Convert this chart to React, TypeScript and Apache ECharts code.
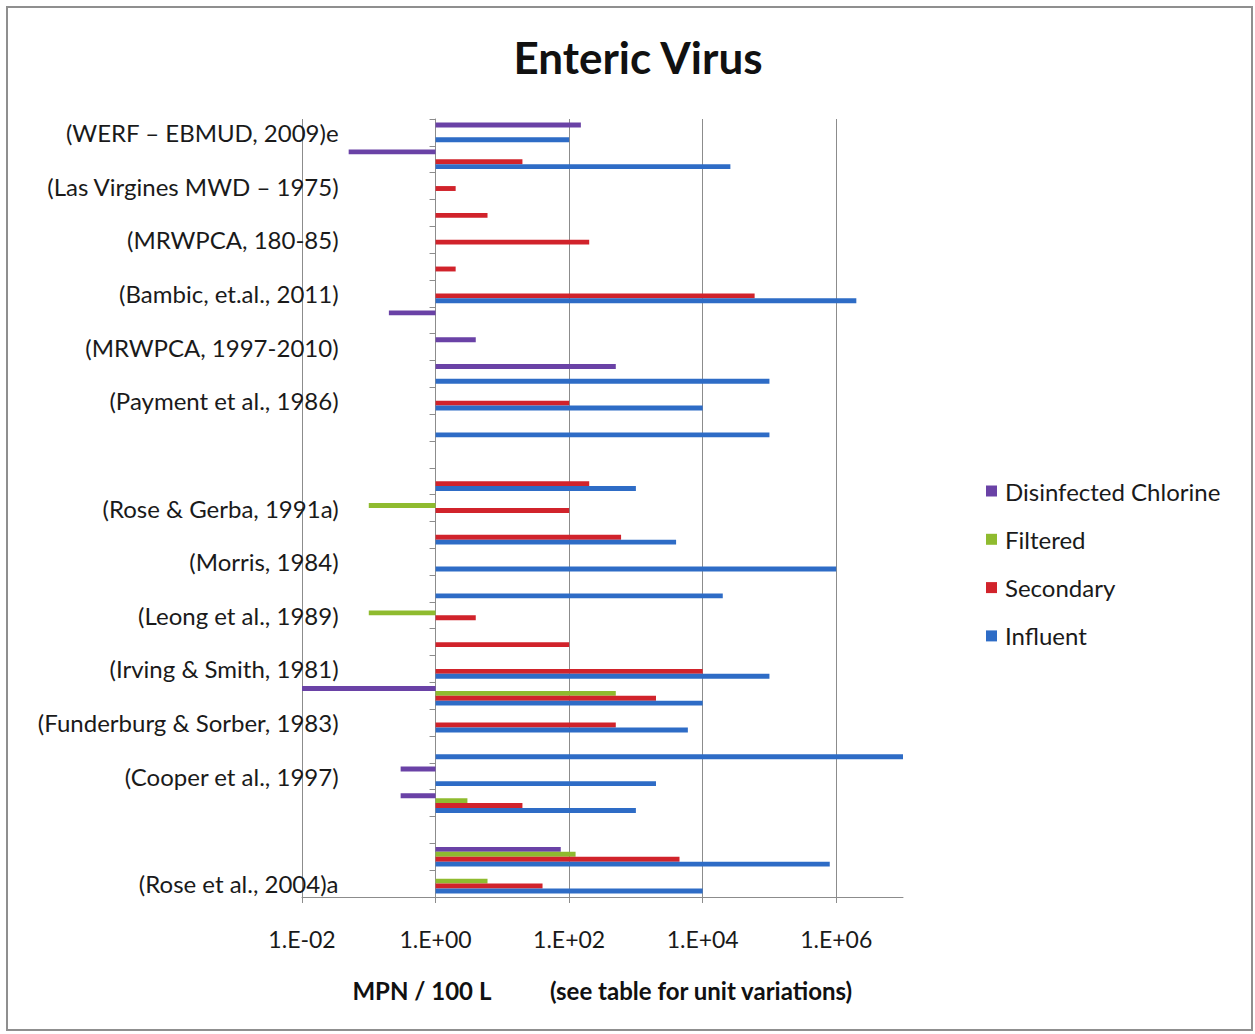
import React, { useEffect, useRef } from 'react';
import * as echarts from 'echarts';

// Rows from top to bottom (only every other row carries a visible label)
const categories: string[] = [
  '(WERF – EBMUD, 2009)e', '',
  '(Las Virgines MWD – 1975)', '',
  '(MRWPCA, 180-85)', '',
  '(Bambic, et.al., 2011)', '',
  '(MRWPCA, 1997-2010)', '',
  '(Payment et al., 1986)', '',
  '', '',
  '(Rose & Gerba, 1991a)', '',
  '(Morris, 1984)', '',
  '(Leong et al., 1989)', '',
  '(Irving & Smith, 1981)', '',
  '(Funderburg & Sorber, 1983)', '',
  '(Cooper et al., 1997)', '',
  '', '',
  '(Rose et al., 2004)a',
];

const seriesNames = ['Disinfected Chlorine', 'Filtered', 'Secondary', 'Influent'];

const disinfected = [150, 0.05, null, null, null, null, null, 0.2, 4, 500, null, null, null, null, null, null, null, null, null, null, null, 0.01, null, null, 0.3, 0.3, null, 75, null];
const filtered = [null, null, null, null, null, null, null, null, null, null, null, null, null, null, 0.1, null, null, null, 0.1, null, null, 500, null, null, null, 3, null, 125, 6];
const secondary = [null, 20, 2, 6, 200, 2, 60000, null, null, null, 100, null, null, 200, 100, 600, null, null, 4, 100, 10000, 2000, 500, null, null, 20, null, 4500, 40];
const influent = [100, 26000, null, null, null, null, 2000000, null, null, 100000, 10000, 100000, null, 1000, null, 4000, 1000000, 20000, null, null, 100000, 10000, 6000, 10000000, 2000, 1000, null, 800000, 10000];

const xTickLabels = ['1.E-02', '1.E+00', '1.E+02', '1.E+04', '1.E+06'];
const xMin = 0.01;
const xMax = 1e7;

const colors = ['#6a42a6', '#8fbb2f', '#d1232b', '#2e6cc6'];

const FONT = 'Lato, "Open Sans", sans-serif';

export default function App() {
  const ref = useRef<HTMLDivElement>(null);
  useEffect(() => {
    if (!ref.current) return;
    const chart = echarts.init(ref.current, null, { renderer: 'svg' });
    const gridLeft = 302;
    const gridRight = 352;
    const plotW = 1255 - gridLeft - gridRight;
    // the category axis crosses the log axis at value 1
    const crossOffset = -plotW * (0 - Math.log10(xMin)) / (Math.log10(xMax) - Math.log10(xMin));
    const dataSets = [disinfected, filtered, secondary, influent];
    chart.setOption({
      animation: false,
      backgroundColor: '#ffffff',
      title: {
        text: 'Enteric Virus',
        left: 633,
        top: 27,
        textAlign: 'center',
        textStyle: { fontFamily: FONT, fontSize: 44, fontWeight: 'bold', color: '#111', lineHeight: 50 },
      },
      graphic: [
        {
          type: 'rect',
          shape: { x: 7, y: 7, width: 1245, height: 1023 },
          style: { fill: 'none', stroke: '#8f8f8f', lineWidth: 2 },
          silent: true,
        },
      ],
      legend: {
        orient: 'vertical',
        left: 981,
        top: 474,
        itemWidth: 11,
        itemHeight: 11,
        itemGap: 24.3,
        icon: 'rect',
        data: seriesNames,
        textStyle: { fontFamily: FONT, fontSize: 24, color: '#1a1a1a', lineHeight: 24, padding: [0, 0, 0, 3] },
      },
      grid: { left: gridLeft, right: gridRight, top: 119, bottom: 137 },
      xAxis: {
        type: 'log',
        logBase: 100,
        min: xMin,
        max: xMax,
        interval: 1,
        axisLine: { show: true, lineStyle: { color: '#8c8c8c', width: 1 } },
        axisTick: { show: true, length: 6, lineStyle: { color: '#8c8c8c' } },
        splitLine: { show: true, showMaxLine: false, lineStyle: { color: '#8c8c8c', width: 1 } },
        axisLabel: {
          margin: 30,
          fontFamily: FONT,
          fontSize: 23,
          lineHeight: 23,
          color: '#1a1a1a',
          showMaxLabel: false,
          formatter: (v: number) => {
            const e = Math.round(Math.log10(v));
            const i = (e + 2) / 2;
            return xTickLabels[i] ?? '';
          },
        },
        name: '{a|MPN / 100 L}{b|(see table for unit variations)}',
        nameLocation: 'middle',
        nameGap: 81,
        nameTextStyle: {
          rich: {
            a: { fontFamily: FONT, fontSize: 24, fontWeight: 'bold', color: '#111' },
            b: { fontFamily: FONT, fontSize: 24, fontWeight: 'bold', color: '#111', padding: [0, 0, 0, 58] },
          },
        },
      },
      yAxis: {
        type: 'category',
        data: categories,
        inverse: true,
        offset: crossOffset,
        axisLine: { show: true, onZero: false, lineStyle: { color: '#8c8c8c', width: 1 } },
        axisTick: { show: true, length: 6, interval: 0, lineStyle: { color: '#8c8c8c' } },
        splitLine: { show: false },
        axisLabel: {
          interval: 0,
          margin: 97,
          fontFamily: FONT,
          fontSize: 24,
          color: '#1a1a1a',
        },
      },
      series: seriesNames.map((name, i) => ({
        name,
        type: 'bar',
        data: dataSets[i],
        barGap: '0%',
        barCategoryGap: '27%',
        itemStyle: { color: colors[i] },
        emphasis: { disabled: true },
      })),
    });
    return () => chart.dispose();
  }, []);
  return (
    <div
      ref={ref}
      style={{ position: 'absolute', left: 0, top: 0, width: 1255, height: 1034, background: '#fff' }}
    />
  );
}
